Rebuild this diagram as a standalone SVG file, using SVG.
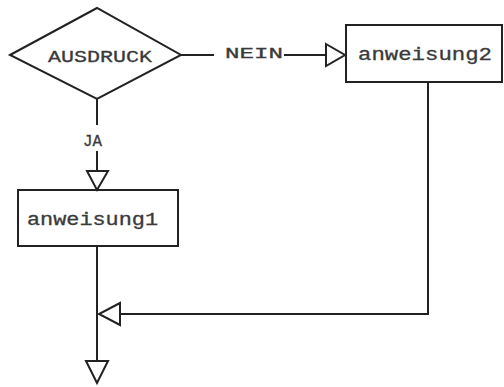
<svg xmlns="http://www.w3.org/2000/svg" width="504" height="387" viewBox="0 0 504 387">
  <defs>
    <style>
      .shape { fill: #ffffff; stroke: #222; stroke-width: 2; }
      .line { fill: none; stroke: #222; stroke-width: 2; }
      .head { fill: #ffffff; stroke: #222; stroke-width: 2; stroke-linejoin: miter; }
      .label { font-family: "Liberation Mono", "DejaVu Sans Mono", monospace; fill: #3a3a3a; stroke: #3a3a3a; stroke-width: 0.3; }
    </style>
  </defs>
  <rect width="504" height="387" fill="#ffffff"/>

  <!-- decision -->
  <g id="ausdruck">
    <polygon class="shape" points="10,55 97,8 181,55 97,99"/>
    <text class="label" x="48" y="62" font-size="17" textLength="104" lengthAdjust="spacingAndGlyphs">AUSDRUCK</text>
  </g>

  <!-- statement for the "no" branch -->
  <g id="anweisung2">
    <rect class="shape" x="346" y="25" width="156" height="57"/>
    <text class="label" x="358" y="60" font-size="18" textLength="134" lengthAdjust="spacingAndGlyphs">anweisung2</text>
  </g>

  <!-- statement for the "yes" branch -->
  <g id="anweisung1">
    <rect class="shape" x="18" y="190" width="160" height="56"/>
    <text class="label" x="27" y="225" font-size="18" textLength="131" lengthAdjust="spacingAndGlyphs">anweisung1</text>
  </g>

  <!-- connectors -->
  <g id="connectors">
    <!-- NEIN branch -->
    <line class="line" x1="181" y1="55" x2="214" y2="55"/>
    <text class="label" x="225" y="58" font-size="14" textLength="58" lengthAdjust="spacingAndGlyphs">NEIN</text>
    <line class="line" x1="284" y1="55" x2="326" y2="55"/>
    <polygon class="head" points="326,44 345,55 326,66"/>

    <!-- JA branch -->
    <line class="line" x1="97" y1="99" x2="97" y2="125"/>
    <text class="label" x="83" y="146" font-size="16" textLength="19" lengthAdjust="spacingAndGlyphs">JA</text>
    <line class="line" x1="97" y1="151" x2="97" y2="171"/>
    <polygon class="head" points="87,171 97,190 108,171"/>

    <!-- return from anweisung2 -->
    <polyline class="line" points="428,82 428,314 120,314"/>
    <polygon class="head" points="120,303 99,314 120,325"/>

    <!-- exit -->
    <line class="line" x1="97" y1="246" x2="97" y2="361"/>
    <polygon class="head" points="86,361 97,383 108,361"/>
  </g>
</svg>
